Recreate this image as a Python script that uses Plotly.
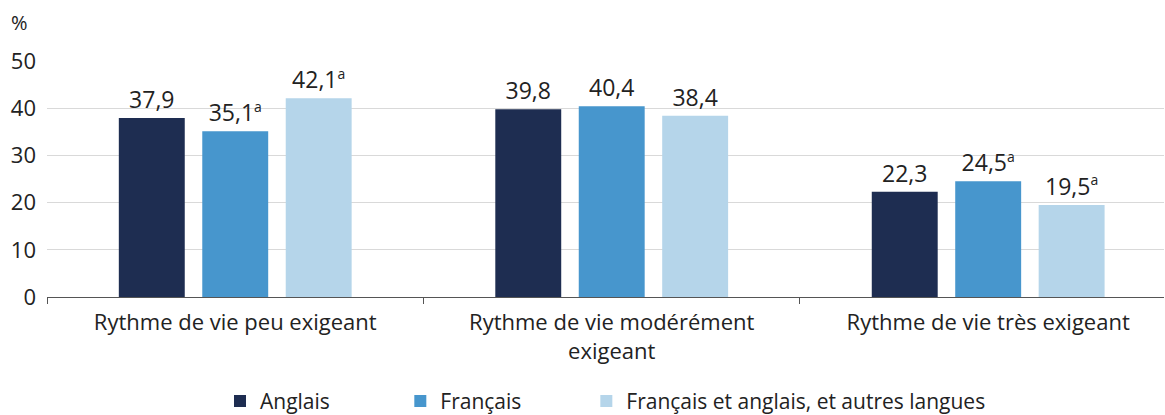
import plotly.graph_objects as go

categories = ["Rythme de vie peu exigeant", "Rythme de vie modérément<br>exigeant", "Rythme de vie très exigeant"]
series_names = ["Anglais", "Français", "Français et anglais, et autres langues"]
anglais = [37.9, 39.8, 22.3]
francais = [35.1, 40.4, 24.5]
mixte = [42.1, 38.4, 19.5]
SUP = "<sup><span style='font-size:14px'>a</span></sup>"
anglais_labels = ["37,9", "39,8", "22,3"]
francais_labels = ["35,1" + SUP, "40,4", "24,5" + SUP]
mixte_labels = ["42,1" + SUP, "38,4", "19,5" + SUP]
y_ticks = [0, 10, 20, 30, 40, 50]

colors = ["#1e2d51", "#4796cd", "#b5d5ea"]
FONT = "Open Sans"
TXT = "#222222"
PAD = "\u00a0"
legend_names = [series_names[0] + PAD * 12, series_names[1] + PAD * 11, series_names[2]]

fig = go.Figure()
for name, vals, labels, col in zip(legend_names, [anglais, francais, mixte],
                                   [anglais_labels, francais_labels, mixte_labels], colors):
    fig.add_trace(go.Bar(
        x=categories, y=vals, name=name, marker_color=col, marker_line_width=0,
        text=labels, textposition="outside", cliponaxis=False,
        textfont=dict(family=FONT, size=23, color=TXT),
        texttemplate="%{text}",
    ))

fig.update_layout(
    width=1165, height=415,
    margin=dict(l=47, r=1, t=61, b=118, autoexpand=False),
    paper_bgcolor="white", plot_bgcolor="white",
    barmode="group", bargap=0.335, bargroupgap=0.21,
    font=dict(family=FONT, size=22, color=TXT),
    showlegend=True,
    legend=dict(orientation="h", x=0.500, xanchor="center", y=-0.355, yanchor="top",
                font=dict(family=FONT, size=21, color=TXT),
                traceorder="normal"),
    annotations=[dict(text="%", xref="paper", yref="paper", x=-0.025, y=1.165,
                      xanchor="center", yanchor="middle", showarrow=False,
                      font=dict(family=FONT, size=20, color=TXT))],
)
fig.update_xaxes(
    range=[-0.5, 2.467], tickson="boundaries", ticks="outside", ticklen=6,
    tickcolor="#555555", showline=True, linecolor="#555555", linewidth=1,
    tickfont=dict(family=FONT, size=22, color=TXT), showgrid=False,
    automargin=False, ticklabelstandoff=6,
)
fig.update_yaxes(
    range=[0, 50], tickvals=y_ticks, showgrid=True, gridcolor="#d9d9d9", gridwidth=1,
    zeroline=False, showline=False, ticks="", ticklabelstandoff=10,
    tickfont=dict(family=FONT, size=22, color=TXT), automargin=False,
)

fig.write_html("out.html", config={"displayModeBar": False},
               post_script="document.body.style.margin='0px';")
